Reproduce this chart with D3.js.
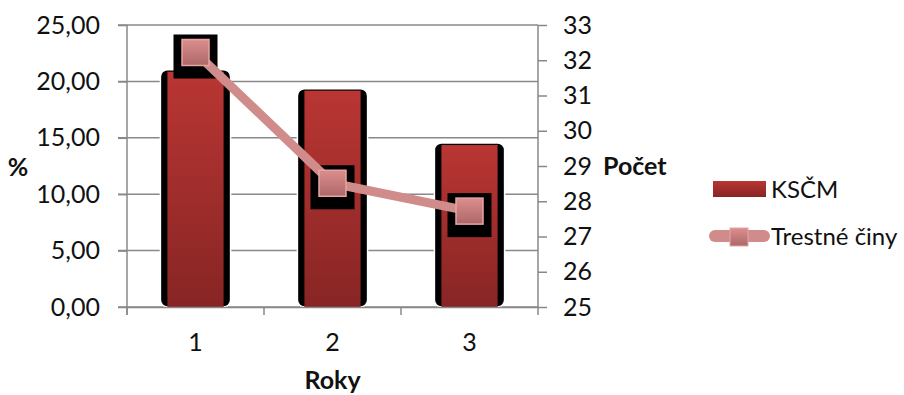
<!DOCTYPE html>
<html>
<head>
<meta charset="utf-8">
<script src="https://cdn.jsdelivr.net/npm/d3@7"></script>
<style>
  body { margin: 0; background: #fff; overflow: hidden; }
  svg { display: block; }
</style>
</head>
<body>
<svg id="chart" width="904" height="395"></svg>
<script>
// chart data
const categories = ['1', '2', '3']
const kscmValues = [20.86, 19.18, 14.36]
const crimeValues = [32.22, 28.51, 27.72]
const leftTicks = [0, 5, 10, 15, 20, 25]
const rightTicks = [25, 26, 27, 28, 29, 30, 31, 32, 33]
const seriesNames = ['KSČM', 'Trestné činy']

const margin = { top: 25, right: 366, bottom: 88, left: 127 }
const width = 904
const height = 395
const innerWidth = width - margin.left - margin.right
const innerHeight = height - margin.top - margin.bottom

const gridColor = '#888888'
const lineColor = '#d08b8b'
const fontFamily = 'Lato, sans-serif'
const fontSize = 25

const svg = d3.select('#chart')
  .attr('font-family', fontFamily)

// gradients
const defs = svg.append('defs')
const barGrad = defs.append('linearGradient')
  .attr('id', 'barGrad').attr('x1', 0).attr('y1', 0).attr('x2', 0).attr('y2', 1)
barGrad.append('stop').attr('offset', '0%').attr('stop-color', '#b93633')
barGrad.append('stop').attr('offset', '100%').attr('stop-color', '#872524')
const markGrad = defs.append('linearGradient')
  .attr('id', 'markGrad').attr('x1', 0).attr('y1', 0).attr('x2', 0).attr('y2', 1)
markGrad.append('stop').attr('offset', '0%').attr('stop-color', '#dc8e8e')
markGrad.append('stop').attr('offset', '100%').attr('stop-color', '#ad6767')

const g = svg.append('g')
  .attr('transform', 'translate(' + margin.left + ',' + margin.top + ')')

// scales
const x = d3.scaleBand().domain(categories).range([0, innerWidth]).padding(0)
const yLeft = d3.scaleLinear().domain([0, 25]).range([innerHeight, 0])
const yRight = d3.scaleLinear().domain([25, 33]).range([innerHeight, 0])

const fmt = d => d3.format('.2f')(d).replace('.', ',')

// style axis text the same everywhere
function styleTicks(axis) {
  axis.attr('font-family', fontFamily).attr('font-size', fontSize)
  axis.selectAll('line').style('stroke', gridColor).style('stroke-width', 1.5)
  axis.selectAll('text').attr('fill', '#111')
}

// gridlines (left axis ticks)
g.append('g')
  .selectAll('line')
  .data(leftTicks)
  .enter()
  .append('line')
  .attr('x1', -9)
  .attr('x2', innerWidth)
  .attr('y1', d => yLeft(d))
  .attr('y2', d => yLeft(d))
  .style('stroke', gridColor)
  .style('stroke-width', 1.5)

// left axis
const leftAxis = g.append('g')
  .call(d3.axisLeft(yLeft).tickValues(leftTicks).tickFormat(fmt).tickSize(9).tickPadding(18))
leftAxis.select('.domain').remove()
styleTicks(leftAxis)
g.append('line')
  .attr('x1', 0).attr('x2', 0).attr('y1', 0).attr('y2', innerHeight + 8)
  .style('stroke', gridColor).style('stroke-width', 1.5)

// right axis
const rightAxis = g.append('g')
  .attr('transform', 'translate(' + innerWidth + ',0)')
  .call(d3.axisRight(yRight).tickValues(rightTicks).tickSize(9).tickPadding(16))
rightAxis.select('.domain').remove()
styleTicks(rightAxis)
g.append('line')
  .attr('x1', innerWidth).attr('x2', innerWidth).attr('y1', 0).attr('y2', innerHeight + 8)
  .style('stroke', gridColor).style('stroke-width', 1.5)

// bars: black rounded shadow then red gradient bar
const barW = x.bandwidth() * 0.41
const edge = 7
const bars = g.selectAll('.bar')
  .data(categories.map((c, i) => ({ key: c, value: kscmValues[i] })))
  .enter()
  .append('g')
  .attr('class', 'bar')
  .attr('transform', d => 'translate(' + (x(d.key) + x.bandwidth() / 2) + ',0)')
bars.append('rect')
  .attr('x', -barW / 2 - edge)
  .attr('width', barW + edge * 2)
  .attr('y', d => yLeft(d.value) - 2)
  .attr('height', d => innerHeight - yLeft(d.value) + 2)
  .attr('rx', 7)
  .style('fill', '#000')
  .style('stroke', '#fff')
  .style('stroke-width', 1.5)
bars.append('rect')
  .attr('x', -barW / 2)
  .attr('width', barW)
  .attr('y', d => yLeft(d.value))
  .attr('height', d => innerHeight - yLeft(d.value))
  .style('fill', 'url(#barGrad)')

// x axis line and ticks
const xAxis = g.append('g')
  .attr('transform', 'translate(0,' + innerHeight + ')')
  .call(d3.axisBottom(x).tickSize(0).tickPadding(26))
xAxis.select('.domain').style('stroke', gridColor).style('stroke-width', 1.5)
styleTicks(xAxis)
g.append('g')
  .selectAll('line')
  .data(categories)
  .enter()
  .append('line')
  .attr('x1', d => x(d))
  .attr('x2', d => x(d))
  .attr('y1', innerHeight)
  .attr('y2', innerHeight + 8)
  .style('stroke', gridColor)
  .style('stroke-width', 1.5)

// line series
const points = categories.map((c, i) => ({ key: c, value: crimeValues[i] }))
const px = d => x(d.key) + x.bandwidth() / 2
const py = d => yRight(d.value)

g.selectAll('.shadow')
  .data(points)
  .enter()
  .append('rect')
  .attr('class', 'shadow')
  .attr('x', d => px(d) - 22)
  .attr('y', d => py(d) - 18)
  .attr('width', 44)
  .attr('height', 44)
  .style('fill', '#000')

g.append('path')
  .datum(points)
  .attr('d', d3.line().x(px).y(py))
  .style('fill', 'none')
  .style('stroke', lineColor)
  .style('stroke-width', 9)

g.selectAll('.marker')
  .data(points)
  .enter()
  .append('rect')
  .attr('class', 'marker')
  .attr('x', d => px(d) - 13.5)
  .attr('y', d => py(d) - 13)
  .attr('width', 27)
  .attr('height', 26)
  .style('fill', 'url(#markGrad)')
  .style('stroke', '#e8a4a4')
  .style('stroke-width', 1.5)

// axis titles
svg.append('text')
  .attr('x', 18).attr('y', 176)
  .attr('text-anchor', 'middle')
  .attr('font-size', fontSize).attr('font-weight', 'bold').attr('fill', '#111')
  .text('%')
svg.append('text')
  .attr('x', 603).attr('y', 175)
  .attr('font-size', fontSize).attr('font-weight', 'bold').attr('fill', '#111')
  .text('Počet')
svg.append('text')
  .attr('x', margin.left + innerWidth / 2).attr('y', 389)
  .attr('text-anchor', 'middle')
  .attr('font-size', fontSize).attr('font-weight', 'bold').attr('fill', '#111')
  .text('Roky')

// legend
const legend = svg.append('g')
legend.append('rect')
  .attr('x', 713).attr('y', 181).attr('width', 53).attr('height', 16)
  .style('fill', 'url(#barGrad)')
legend.append('text')
  .attr('x', 771).attr('y', 198)
  .attr('font-size', 24).attr('fill', '#111')
  .text(seriesNames[0])
legend.append('line')
  .attr('x1', 715).attr('x2', 764).attr('y1', 236).attr('y2', 236)
  .style('stroke', lineColor).style('stroke-width', 12).style('stroke-linecap', 'round')
legend.append('rect')
  .attr('x', 730).attr('y', 228).attr('width', 18).attr('height', 18)
  .style('fill', 'url(#markGrad)')
  .style('stroke', '#e8a4a4').style('stroke-width', 1)
legend.append('text')
  .attr('x', 771).attr('y', 245)
  .attr('font-size', 24).attr('fill', '#111')
  .text(seriesNames[1])
</script>
</body>
</html>
